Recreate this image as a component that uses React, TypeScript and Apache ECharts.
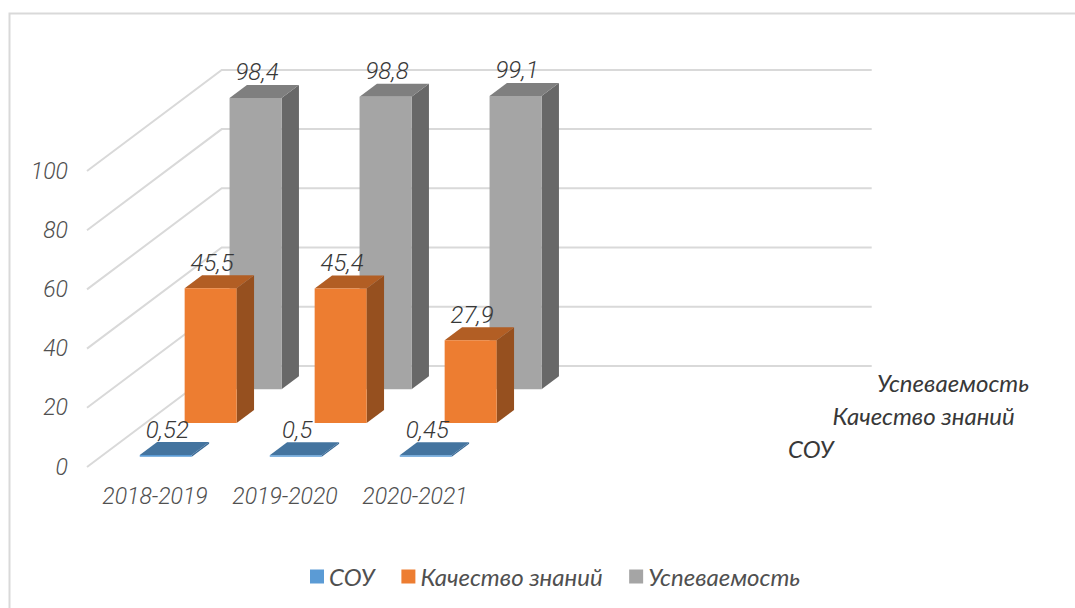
import React, { useEffect, useRef } from "react";
import * as echarts from "echarts";

const categories = ["2018-2019", "2019-2020", "2020-2021", "", ""];
const seriesNames = ["СОУ", "Качество знаний", "Успеваемость"];
const souValues = [0.52, 0.5, 0.45];
const qualityValues = [45.5, 45.4, 27.9];
const progressValues = [98.4, 98.8, 99.1];
const yTicks = [0, 20, 40, 60, 80, 100];

const FONT = "Roboto";
const LABEL_FONT = "Lato, 'Noto Sans', sans-serif";
const GRID_COLOR = "#d9d9d9";
const AXIS_TEXT = "#505050";
const VALUE_TEXT = "#383838";

// oblique projection of the depth axis, one slot per series
const SLOT_DX = 44.9;
const SLOT_DY = 33.7;
const BAR_DX = 17.4;
const BAR_DY = 13;
const BAR_WIDTH_RATIO = 0.4;

const shades = [
  { front: "#5b9bd5", top: "#44749f", side: "#3a6a96" },
  { front: "#ed7d31", top: "#b25e24", side: "#96501f" },
  { front: "#a5a5a5", top: "#7f7f7f", side: "#686868" },
];

const fmt = (v: number) => String(v).replace(".", ",");
const quad = (pts: number[][], fill: string) => ({
  type: "polygon",
  shape: { points: pts },
  style: { fill, stroke: null },
});

function barSeries(k: number, values: number[]) {
  const s = shades[k];
  return {
    type: "custom",
    name: seriesNames[k],
    z: 5 - k,
    itemStyle: { color: s.front },
    encode: { x: 0, y: 1 },
    data: values.map((v, i) => [i, v]),
    renderItem: (_: any, api: any) => {
      const top = api.coord([api.value(0), api.value(1)]);
      const base = api.coord([api.value(0), 0]);
      const band = api.size([1, 0])[0];
      const w = band * BAR_WIDTH_RATIO;
      const ox = SLOT_DX * k + (SLOT_DX - BAR_DX) / 2;
      const oy = SLOT_DY * k + (SLOT_DY - BAR_DY) / 2;
      const x0 = top[0] - w / 2 + ox;
      const x1 = x0 + w;
      const yt = top[1] - oy;
      const yb = base[1] - oy;
      return {
        type: "group",
        children: [
          quad([[x1, yt], [x1 + BAR_DX, yt - BAR_DY], [x1 + BAR_DX, yb - BAR_DY], [x1, yb]], s.side),
          quad([[x0, yt], [x0 + BAR_DX, yt - BAR_DY], [x1 + BAR_DX, yt - BAR_DY], [x1, yt]], s.top),
          { type: "rect", shape: { x: x0, y: yt, width: w, height: yb - yt }, style: { fill: s.front } },
          {
            type: "text",
            x: x0 + w / 2 + 1.5,
            y: yt - BAR_DY - 12.5,
            style: {
              text: fmt(api.value(1)),
              fontFamily: FONT,
              fontStyle: "italic",
              fontWeight: 300,
              fontSize: 24,
              fill: VALUE_TEXT,
              align: "center",
              verticalAlign: "middle",
            },
          },
        ],
      };
    },
  };
}

const option: any = {
  animation: false,
  backgroundColor: "#ffffff",
  graphic: [
    {
      type: "rect",
      silent: true,
      shape: { x: 9.5, y: 13.5, width: 1100, height: 640 },
      style: { fill: "none", stroke: GRID_COLOR, lineWidth: 2 },
    },
  ],
  grid: { left: 87, top: 171, width: 650, height: 296 },
  legend: {
    data: seriesNames,
    left: 305,
    top: 559.5,
    icon: "rect",
    itemWidth: 14,
    itemHeight: 14,
    itemGap: 26.5,
    selectedMode: false,
    textStyle: {
      fontFamily: LABEL_FONT,
      fontStyle: "italic",
      fontSize: 24,
      color: AXIS_TEXT,
    },
  },
  xAxis: {
    type: "category",
    data: categories,
    axisLine: { show: false },
    axisTick: { show: false },
    axisLabel: {
      interval: 0,
      margin: 18,
      padding: [0, 0, 0, 6],
      fontFamily: FONT,
      fontStyle: "italic",
      fontWeight: 300,
      fontSize: 23,
      color: AXIS_TEXT,
    },
  },
  yAxis: {
    type: "value",
    min: 0,
    max: 100,
    interval: 20,
    axisLine: { show: false },
    axisTick: { show: false },
    splitLine: { show: false },
    axisLabel: {
      margin: 19,
      fontFamily: FONT,
      fontStyle: "italic",
      fontWeight: 300,
      fontSize: 23,
      color: AXIS_TEXT,
    },
  },
  series: [
    {
      type: "custom",
      name: "walls",
      z: 1,
      silent: true,
      encode: { x: 0, y: 1 },
      data: yTicks.map((v) => [0, v]),
      renderItem: (_: any, api: any) => {
        const p = api.coord([0, api.value(1)]);
        const band = api.size([1, 0])[0];
        const x0 = p[0] - band / 2;
        const depthX = SLOT_DX * seriesNames.length;
        const depthY = SLOT_DY * seriesNames.length;
        const right = x0 + band * categories.length + depthX;
        return {
          type: "polyline",
          shape: { points: [[x0, p[1]], [x0 + depthX, p[1] - depthY], [right, p[1] - depthY]] },
          style: { fill: "none", stroke: GRID_COLOR, lineWidth: 2 },
        };
      },
    },
    barSeries(2, progressValues),
    barSeries(1, qualityValues),
    barSeries(0, souValues),
    {
      type: "custom",
      name: "depth labels",
      z: 6,
      silent: true,
      encode: { x: 0, y: 1 },
      data: seriesNames.map((_, k) => [categories.length - 1, 0, k]),
      renderItem: (_: any, api: any) => {
        const p = api.coord([api.value(0), 0]);
        const band = api.size([1, 0])[0];
        const k = api.value(2);
        return {
          type: "text",
          x: p[0] + band / 2 + 51 + 44.5 * k,
          y: p[1] - 18.5 - 33 * k,
          style: {
            text: seriesNames[k],
            fontFamily: LABEL_FONT,
            fontStyle: "italic",
            fontSize: 24,
            fill: VALUE_TEXT,
            align: "left",
            verticalAlign: "middle",
          },
        };
      },
    },
  ],
};

export default function App() {
  const ref = useRef<HTMLDivElement>(null);
  useEffect(() => {
    const chart = echarts.init(ref.current!, undefined, { renderer: "svg" });
    chart.setOption(option);
    return () => chart.dispose();
  }, []);
  return <div ref={ref} style={{ position: "absolute", left: 0, top: 0, width: 1075, height: 608 }} />;
}
